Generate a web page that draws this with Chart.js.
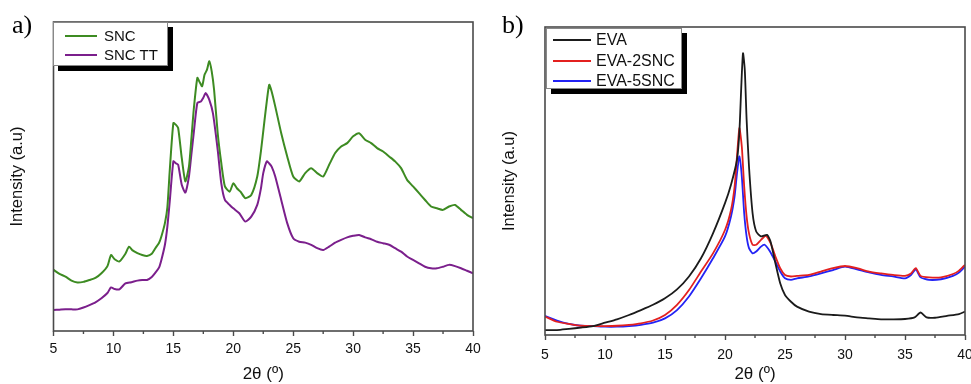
<!DOCTYPE html>
<html><head><meta charset="utf-8">
<script src="https://cdn.jsdelivr.net/npm/chart.js@4"></script>
<style>
body{margin:0;width:971px;height:384px;background:#fff;position:relative;overflow:hidden;font-family:"Liberation Sans",Arial,sans-serif;}
.wrap{position:absolute;top:0;height:384px;}
#wa{left:0;width:490px;}
#wb{left:490px;width:481px;}
.panel{position:absolute;font-family:"Liberation Serif","Times New Roman",serif;font-size:26px;color:#000;line-height:1;}
.legend{position:absolute;background:#fff;border:1px solid #888;box-shadow:5px 5px 0 #000;box-sizing:border-box;}
.row{position:absolute;left:0;height:20px;display:flex;align-items:center;white-space:nowrap;color:#111;}
.row span.l{display:inline-block;height:2px;}
</style>
</head><body>
<div class="wrap" id="wa"><canvas id="ca"></canvas></div>
<div class="wrap" id="wb"><canvas id="cb"></canvas></div>
<div class="panel" style="left:12px;top:12px;">a)</div>
<div class="panel" style="left:502px;top:12px;">b)</div>
<div class="legend" id="la" style="left:53px;top:22px;width:115px;height:44px;"></div>
<div class="legend" id="lb" style="left:546px;top:28px;width:136px;height:61px;"></div>
<script>
// ---------- Data (panel a) ----------
const xTicksA = [5,10,15,20,25,30,35,40];
const sncX  = [5,5.5,6,6.5,7,7.5,8,8.5,9,9.5,9.8,10.1,10.5,11,11.3,11.6,12,12.4,12.8,13.2,13.5,13.8,14,14.3,14.5,14.7,15.0,15.2,15.4,15.7,16.0,16.3,16.5,16.7,17.0,17.2,17.4,17.6,17.8,18.0,18.2,18.4,18.7,19.0,19.3,19.7,20.0,20.3,20.6,21.0,21.5,22.0,22.3,22.6,22.8,23.0,23.2,23.5,24.0,24.5,25.0,25.5,26,26.5,27,27.5,28,28.5,29,29.5,30,30.5,31,31.5,32,32.5,33,33.5,34,34.5,35,35.5,36,36.5,37,37.5,38,38.5,39,39.5,40];
const sncY  = [19.8,18.5,17.6,16.3,15.7,15.9,16.5,17.2,18.7,21.0,24.6,23.2,22.5,25.0,27.3,26.1,25.2,24.6,24.3,25.0,26.8,28.5,30.6,35,40,52,67.3,66.8,65.7,56,48.4,53.2,62,71.6,81.9,80.5,79.2,82.9,84.5,87.3,84,78,64,54.3,46.8,45.1,47.8,46.2,45.1,43,44,50,58,68,74.5,79.7,77.5,72.7,64,56.5,50,48.4,51.1,52.7,51.1,50,53.8,57.6,59.7,60.8,63,64,61.9,60.8,59.2,58.1,56.5,54.9,52.7,48.9,46.8,44.6,42.4,40.3,39.7,39.2,40.3,40.8,39.2,37.6,36.5];
const ttX   = [5,5.5,6,6.5,7,7.5,8,8.5,9,9.5,9.8,10.1,10.5,11,11.5,12,12.4,12.8,13.2,13.5,13.8,14,14.3,14.5,14.7,15.0,15.2,15.4,15.7,16.0,16.3,16.5,16.7,17.0,17.3,17.5,17.7,18.0,18.3,18.7,19.0,19.3,19.7,20.0,20.5,21.0,21.5,22.0,22.3,22.5,22.8,23.0,23.2,23.5,24.0,24.5,25.0,25.5,26,26.5,27,27.5,28,28.5,29,29.5,30,30.5,31,31.5,32,32.5,33,33.5,34,34.5,35,35.5,36,36.5,37,37.5,38,38.5,39,39.5,40];
const ttY   = [6.8,6.9,7.0,7.0,7.0,7.6,8.4,9.3,10.6,12.3,14.1,13.6,13.5,15.4,15.8,16.3,16.5,16.5,17.5,18.9,20.5,23,28,33.8,42,54.9,54.3,53.8,47.3,44.8,50,57,64,73.8,74.3,75.5,77,74.8,70.5,58.6,47.8,42.4,40.8,39.7,38.1,35.4,37,40.8,46,51.1,54.9,54.2,53.2,50,42.4,34.9,30,28.9,28.6,27.9,26.8,26.2,27.3,28.6,29.5,30.3,30.8,31.1,30.3,29.7,28.9,28.4,27.9,26.8,25.7,24.1,23,21.9,20.8,20.3,20.3,20.8,21.4,21,20.3,19.5,18.7];

// ---------- Data (panel b) ----------
const xTicksB = [5,10,15,20,25,30,35,40];
const evaX  = [5,6,7,8,9,10,11,12,13,14,15,16,17,18,19,20,20.5,21.0,21.2,21.35,21.5,21.65,21.8,22.0,22.3,22.6,23.0,23.5,23.8,24.2,24.6,25,25.5,26,27,28,29,30,31,32,33,34,35,35.8,36.3,36.8,37.5,38.5,39.5,40];
const evaY  = [1.6,1.6,2.0,2.4,2.9,4.0,5.1,6.5,8.1,9.8,11.9,14.8,19.0,24.9,33.0,42.8,48.8,56.9,66,80,91.5,86,70,54.7,39.5,33.6,32.0,32.5,30.3,23.3,16.8,13.0,10.8,9.2,7.6,6.8,6.5,6.3,5.7,5.4,5.1,5.1,5.2,5.7,7.3,5.7,5.6,6.2,6.8,7.6];
const eva2X = [5,6,7,8,9,10,11,12,13,14,15,16,17,18,19,20,20.5,20.8,21.0,21.2,21.4,21.6,21.8,22.0,22.3,22.6,23.0,23.4,23.8,24.2,24.6,25,25.5,26,27,28,29,30,31,32,33,34,35,35.5,35.9,36.3,37,38,39,39.5,40];
const eva2Y = [6.0,4.3,3.6,3.0,2.9,2.9,3.0,3.3,3.8,4.7,6.5,9.8,14.6,20.6,26.5,34.1,40.6,48.2,58.0,67.2,61.2,48.2,38.5,33.0,29.3,29.3,30.9,32.2,29.8,25.5,21.7,19.5,19.0,19.2,19.5,20.6,21.7,22.4,21.7,20.6,20.0,19.5,19.2,20.0,21.7,19.2,18.7,18.7,19.8,20.9,22.8];
const eva5X = [5,6,7,8,9,10,11,12,13,14,15,16,17,18,19,20,20.5,20.8,21.0,21.2,21.4,21.6,21.8,22.0,22.3,22.6,23.0,23.3,23.7,24.2,24.6,25,25.5,26,27,28,29,30,31,32,33,34,35,35.5,35.9,36.3,37,38,39,39.5,40];
const eva5Y = [6.2,4.7,3.6,3.0,2.9,2.7,2.7,2.9,3.3,4.0,5.4,8.1,12.5,18.4,24.9,32.0,38.5,45.0,52.5,58.0,51.5,39.5,32.0,28.2,26.5,27.1,28.7,29.3,27.4,23.8,20.6,18.4,17.9,18.4,19.0,20.0,21.1,22.2,21.3,20.3,19.5,19.0,18.4,19.5,21.3,18.7,17.9,18.1,19.2,20.3,22.2];

const seriesA = [
  {label:'SNC',    xs:sncX, ys:sncY, color:'#3d8b22'},
  {label:'SNC TT', xs:ttX,  ys:ttY,  color:'#7b1f8c'}
];
const seriesB = [
  {label:'EVA',      xs:evaX,  ys:evaY,  color:'#1b1b1b'},
  {label:'EVA-2SNC', xs:eva2X, ys:eva2Y, color:'#e3201f'},
  {label:'EVA-5SNC', xs:eva5X, ys:eva5Y, color:'#2323f5'}
];

const frame = {
  id:'frame',
  afterDatasetsDraw(chart){
    const {ctx, chartArea:a, scales:{x}} = chart;
    ctx.save();
    ctx.strokeStyle = '#4a4a4a';
    ctx.lineWidth = 1.6;
    ctx.strokeRect(a.left, a.top, a.right - a.left, a.bottom - a.top);
    ctx.lineWidth = 1.4;
    for (let v = 7.5; v < 40; v += 5) {
      const px = x.getPixelForValue(v);
      ctx.beginPath(); ctx.moveTo(px, a.bottom); ctx.lineTo(px, a.bottom + 3); ctx.stroke();
    }
    ctx.restore();
  }
};

function makeChart(id, series, box, ticks, tickPad, yTitlePad, lw){
  const W = box.w, H = 384;
  return new Chart(document.getElementById(id), {
    type:'line',
    data:{datasets: series.map(s => ({
      label:s.label,
      data:s.xs.map((xv,i)=>({x:xv, y:s.ys[i]})),
      borderColor:s.color, borderWidth:lw, pointRadius:0, tension:0.2, fill:false
    }))},
    options:{
      responsive:true, maintainAspectRatio:false, animation:false,
      layout:{padding:{top:box.top, right:W - box.right, bottom:0, left:0}},
      plugins:{legend:{display:false}, tooltip:{enabled:false}},
      scales:{
        x:{type:'linear', min:5, max:40,
          afterBuildTicks(s){ s.ticks = ticks.map(v=>({value:v})); },
          afterFit(s){ s.height = H - box.bottom; s.paddingLeft = 0; s.paddingRight = 0; },
          border:{display:false},
          grid:{display:true, drawOnChartArea:false, drawTicks:true, tickLength:5, tickColor:'#4a4a4a', tickWidth:1.4},
          ticks:{padding:tickPad, color:'#111', font:{family:'"Liberation Sans", Arial', size:14}, maxRotation:0, autoSkip:false},
          title:{display:true, text:'2θ (º)', color:'#111', font:{family:'"Liberation Sans", Arial', size:17}, padding:{top:0,bottom:-1}}
        },
        y:{type:'linear', min:0, max:100,
          afterFit(s){ s.width = box.left; s.paddingTop = 0; s.paddingBottom = 0; },
          border:{display:false},
          grid:{display:false},
          ticks:{display:false},
          title:{display:true, text:'Intensity (a.u)', color:'#111', font:{family:'"Liberation Sans", Arial', size:16.5}, padding:{top:yTitlePad,bottom:0}}
        }
      }
    },
    plugins:[frame]
  });
}

makeChart('ca', seriesA, {w:490, left:53.5, right:473, top:22, bottom:331}, xTicksA, 5, 8, 2);
makeChart('cb', seriesB, {w:481, left:55, right:475, top:27, bottom:335}, xTicksB, 7, 10, 1.8);

function buildLegend(elId, series, rowTop, rowGap, lineLeft, lineW, textLeft, fs){
  const el = document.getElementById(elId);
  series.forEach((s,i)=>{
    const r = document.createElement('div');
    r.className = 'row';
    r.style.top = (rowTop + i*rowGap - 10) + 'px';
    r.style.left = lineLeft + 'px';
    r.style.fontSize = fs + 'px';
    const l = document.createElement('span');
    l.className = 'l'; l.style.width = lineW + 'px'; l.style.background = s.color;
    const t = document.createElement('span');
    t.textContent = s.label; t.style.marginLeft = (textLeft - lineLeft - lineW) + 'px';
    r.appendChild(l); r.appendChild(t);
    el.appendChild(r);
  });
}
buildLegend('la', seriesA, 12.5, 19, 11, 32, 50, 15);
buildLegend('lb', seriesB, 11, 20.5, 6, 38, 49, 16);
</script>
</body></html>
